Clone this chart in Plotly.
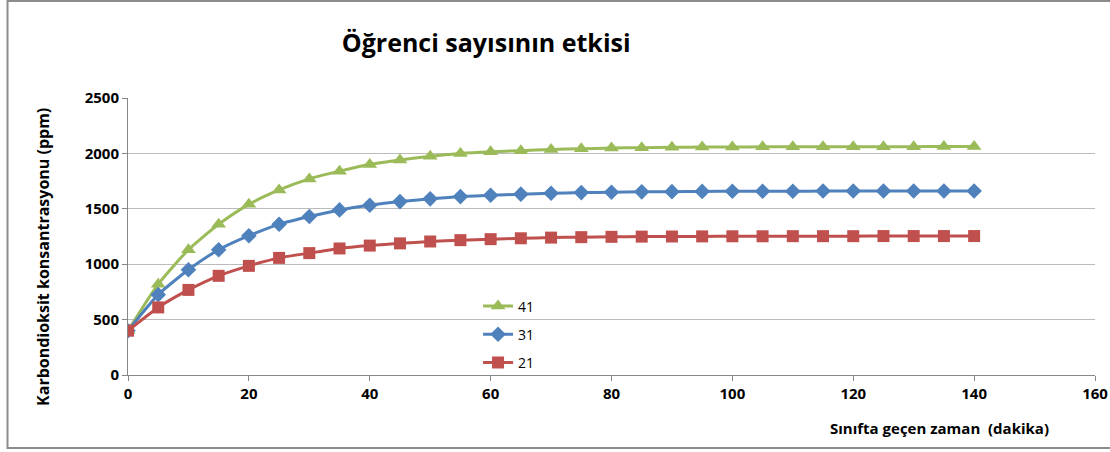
import plotly.graph_objects as go

time_min = list(range(0, 145, 5))
s41 = [400, 820, 1130, 1360, 1540, 1670, 1770, 1840, 1900, 1940, 1975, 2000, 2015, 2025, 2035,
       2042, 2048, 2052, 2055, 2057, 2058, 2059, 2060, 2060, 2061, 2061, 2061, 2062, 2062]
s31 = [400, 725, 950, 1130, 1257, 1360, 1430, 1490, 1532, 1565, 1590, 1610, 1622, 1632, 1640,
       1646, 1650, 1653, 1655, 1657, 1658, 1659, 1659, 1660, 1660, 1660, 1661, 1661, 1661]
s21 = [400, 610, 768, 895, 985, 1057, 1100, 1142, 1168, 1188, 1205, 1217, 1226, 1234, 1240,
       1244, 1247, 1249, 1250, 1251, 1252, 1252, 1253, 1253, 1253, 1254, 1254, 1254, 1254]
series_names = ["41", "31", "21"]
colors = ["#9BBB59", "#4F81BD", "#C0504D"]
symbols = ["triangle-up", "diamond", "square"]
sizes = [13, 12, 12]
x_ticks = [0, 20, 40, 60, 80, 100, 120, 140, 160]
y_ticks = [0, 500, 1000, 1500, 2000, 2500]

fig = go.Figure()
for name, vals, c, sym, sz in zip(series_names, [s41, s31, s21], colors, symbols, sizes):
    fig.add_trace(go.Scatter(
        x=time_min, y=vals, name=name, mode="lines+markers", legendgroup=name,
        line=dict(color=c, width=3, shape="spline", smoothing=0.6),
        marker=dict(symbol=sym, size=sz, color=c),
    ))

font_main = "Open Sans, Liberation Sans, sans-serif"
fig.update_layout(
    width=1110, height=452,
    margin=dict(l=128, r=15, t=98, b=77, autoexpand=False),
    paper_bgcolor="white", plot_bgcolor="white",
    font=dict(family=font_main, color="black"),
    title=dict(text="<b>Öğrenci sayısının etkisi</b>", x=0.438, xanchor="center",
               y=0.905, yanchor="middle", font=dict(size=25, family=font_main)),
    xaxis=dict(range=[0, 160], tickvals=x_ticks, showgrid=False, zeroline=False,
               showline=True, linecolor="#888888", linewidth=1, automargin=False,
               ticks="outside", ticklen=5, tickcolor="#888888",
               tickfont=dict(size=15, family=font_main, weight="bold")),
    yaxis=dict(range=[0, 2500], tickvals=y_ticks, showgrid=True, gridcolor="#BBBBBB",
               gridwidth=1, zeroline=False, showline=True, linecolor="#888888",
               linewidth=1, ticks="outside", ticklen=5, tickcolor="#888888", automargin=False,
               tickfont=dict(size=15, family=font_main, weight="bold")),
    legend=dict(x=0.362, y=0.305, xanchor="left", yanchor="top",
                bgcolor="rgba(0,0,0,0)", font=dict(size=14, family=font_main),
                tracegroupgap=7, itemwidth=30),
    showlegend=True,
)

fig.add_annotation(text="<b>Karbondioksit konsantrasyonu (ppm)</b>", xref="paper", yref="paper",
                   x=-0.088, y=0.426, xanchor="center", yanchor="middle", textangle=-90,
                   showarrow=False, font=dict(size=16, family=font_main))
fig.add_annotation(text="<b>Sınıfta geçen zaman  (dakika)</b>", xref="paper", yref="paper",
                   x=0.955, y=-0.19, xanchor="right", yanchor="middle",
                   showarrow=False, font=dict(size=15, family=font_main))
fig.add_shape(type="rect", xref="paper", yref="paper", x0=-0.1246, x1=1.05, y0=-0.2635, y1=1.35,
              line=dict(color="#8C8C8C", width=2), fillcolor="rgba(0,0,0,0)", layer="below")

fig.write_html("out.html", config={"displayModeBar": False},
               post_script="document.body.style.margin='0px';")
